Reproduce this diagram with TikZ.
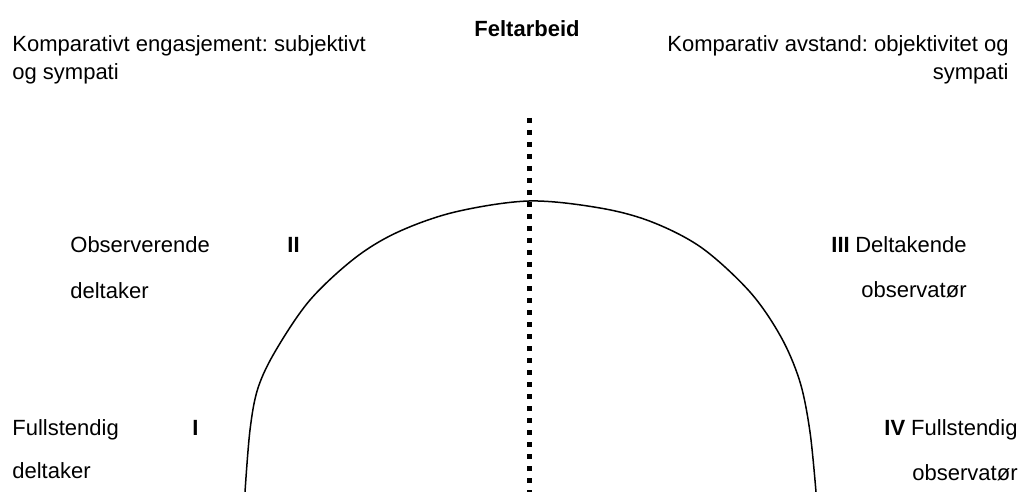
\documentclass[tikz,border=0pt]{standalone}
\usepackage{fontspec}
\setmainfont{Liberation Sans}
\frenchspacing
\tikzset{
    txt/.style = {inner sep=0pt, font=\fontsize{11}{14}\selectfont},
    rolle/.style = {inner sep=0pt, font=\fontsize{11}{22.5}\selectfont},
    nummer/.style = {inner sep=0pt, font=\fontsize{11}{14}\selectfont\bfseries}
}
\begin{document}
\begin{tikzpicture}[x=0.5pt,y=-0.5pt]
            \useasboundingbox (0,0) rectangle (1024,492);
            % overskrift og ytterpunkter (base = siste linje)
            \node[nummer, anchor=base] (felt) at (527,37) {Feltarbeid};
            \node[txt, anchor=base west, align=left] (venstre) at (12,80) {Komparativt engasjement: subjektivt\\og sympati};
            \node[txt, anchor=base east, align=right] (hoyre) at (1009,80) {Komparativ avstand: objektivitet og\\sympati};
            % skille
            \coordinate (topp) at (529,118);
            \coordinate (bunn) at (529,492);
            \draw[line width=2.5pt, dash pattern=on 2.5pt off 3.5pt] (topp) -- (bunn);
            % bue
            \draw[line width=0.75pt] plot[smooth, tension=0.55] coordinates {
                (245,492) (250,430) (258,388) (276,350) (310,300) (355,258)
                (398,232) (455,212) (529,201) (600,208) (652,222) (702,248)
                (750,292) (781,337) (800,382) (810,432) (816,492)
            };
            % roller
            \node[rolle, anchor=base west, align=left] (obsdelt) at (70,299) {Observerende\\[0.5pt]deltaker};
            \node[nummer, anchor=base west] (to) at (287,253) {II};
            \node[rolle, anchor=base west, align=left] (fulldelt) at (12,478) {Fullstendig\\[-1pt]deltaker};
            \node[nummer, anchor=base west] (en) at (192,435) {I};
            \node[nummer, anchor=base west] (tre) at (831,253) {III};
            \node[rolle, anchor=base east, align=right] (deltobs) at (967,298) {Deltakende\\observatør};
            \node[nummer, anchor=base west] (fire) at (884,435) {IV};
            \node[rolle, anchor=base east, align=right] (fullobs) at (1018,480) {Fullstendig\\observatør};
        \end{tikzpicture}
\end{document}
